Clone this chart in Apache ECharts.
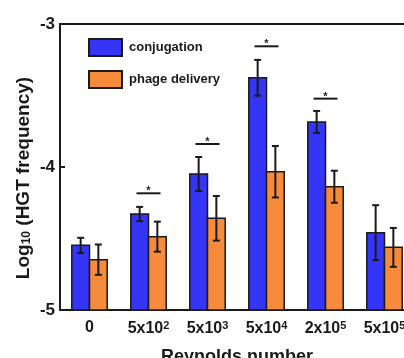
<!DOCTYPE html>
<html>
<head>
<meta charset="utf-8">
<script src="https://cdn.jsdelivr.net/npm/echarts@6/dist/echarts.min.js"></script>
<style>
  html, body { margin: 0; padding: 0; background: #fff; }
  #chart { width: 404px; height: 358px; }
</style>
</head>
<body>
<div id="chart"></div>
<script>
// Reynolds number categories (^n = superscript)
var categories = ['0', '5x10^2', '5x10^3', '5x10^4', '2x10^5', '5x10^5'];
var yTicks = [-5, -4, -3];

// log10 HGT frequency, mean and error
var conjugation = [-4.548, -4.329, -4.049, -3.376, -3.685, -4.459];
var conjugationErr = [0.053, 0.05, 0.119, 0.125, 0.077, 0.192];
var phageDelivery = [-4.648, -4.487, -4.359, -4.033, -4.138, -4.562];
var phageDeliveryErr = [0.106, 0.105, 0.156, 0.18, 0.112, 0.136];

// significance bars: category index and height
var sigIndex = [1, 2, 3, 4];
var sigLevel = [-4.184, -3.839, -3.156, -3.522];

var yMin = yTicks[0];
var yMax = yTicks[yTicks.length - 1];
var font = '"Liberation Sans", Arial, sans-serif';
var ink = '#1a1a1a';

// bar + error bar drawn in one custom item, side = -1 (left) or 1 (right)
function barRenderer(side) {
  return function (params, api) {
    var i = api.value(0);
    var v = api.value(1);
    var e = api.value(2);
    var top = api.coord([i, v]);
    var base = api.coord([i, yMin]);
    var band = api.size([1, 0])[0];
    var w = band * 0.3;
    var cx = top[0] + side * w / 2;
    var hi = api.coord([i, v + e])[1];
    var lo = api.coord([i, v - e])[1];
    var cap = 3.5;
    var lineStyle = { stroke: ink, lineWidth: 2 };
    return {
      type: 'group',
      children: [
        {
          type: 'rect',
          shape: { x: cx - w / 2, y: top[1], width: w, height: base[1] - top[1] },
          style: api.style()
        },
        { type: 'line', shape: { x1: cx, y1: hi, x2: cx, y2: lo }, style: lineStyle },
        { type: 'line', shape: { x1: cx - cap, y1: hi, x2: cx + cap, y2: hi }, style: lineStyle },
        { type: 'line', shape: { x1: cx - cap, y1: lo, x2: cx + cap, y2: lo }, style: lineStyle }
      ]
    };
  };
}

function sigRenderer(params, api) {
  var p = api.coord([api.value(0), api.value(1)]);
  var half = 12;
  return {
    type: 'group',
    children: [
      { type: 'line', shape: { x1: p[0] - half, y1: p[1], x2: p[0] + half, y2: p[1] },
        style: { stroke: ink, lineWidth: 2 } },
      { type: 'text', x: p[0], y: p[1] - 2,
        style: { text: '*', fill: ink, font: 'bold 11px ' + font, align: 'center', verticalAlign: 'middle' } }
    ]
  };
}

function withErr(values, errs) {
  return values.map(function (v, i) { return [i, v, errs[i]]; });
}

var chart = echarts.init(document.getElementById('chart'));
var option = {
  animation: false,
  backgroundColor: '#fff',
  grid: { left: 60, top: 24, right: -10, bottom: 48, containLabel: false, outerBoundsMode: 'none' },
  legend: {
    orient: 'vertical',
    left: 83,
    top: 33,
    itemWidth: 33,
    itemHeight: 17,
    itemGap: 13,
    icon: 'rect',
    data: ['conjugation', 'phage delivery'],
    textStyle: { fontFamily: font, fontWeight: 'bold', fontSize: 13, color: ink, padding: [0, 0, 0, 2] }
  },
  xAxis: [
    {
      type: 'category',
      data: categories,
      name: 'Reynolds number',
      nameLocation: 'middle',
      nameGap: 38,
      nameMoveOverlap: false,
      nameTextStyle: { fontFamily: font, fontWeight: 'bold', fontSize: 18, color: ink },
      axisLine: { lineStyle: { color: ink, width: 2 } },
      axisTick: { show: false },
      axisLabel: {
        interval: 0,
        hideOverlap: false,
        margin: 10,
        color: ink,
        fontFamily: font,
        fontWeight: 'bold',
        fontSize: 16,
        formatter: function (s) { return s.replace(/\^(\d+)/, '{sup|$1}'); },
        rich: { sup: { fontFamily: font, fontWeight: 'bold', fontSize: 11, color: ink, verticalAlign: 'top', padding: [0, 0, 6, 0] } }
      }
    },
    {
      type: 'category',
      position: 'top',
      data: categories,
      axisLine: { lineStyle: { color: ink, width: 2 } },
      axisTick: { show: false },
      axisLabel: { show: false }
    }
  ],
  yAxis: {
    type: 'value',
    min: yMin,
    max: yMax,
    interval: 1,
    name: 'Log{sub|10} (HGT frequency)',
    nameLocation: 'middle',
    nameGap: 27,
    nameMoveOverlap: false,
    nameTextStyle: {
      fontFamily: font, fontWeight: 'bold', fontSize: 19, color: ink,
      padding: [0, 22, 0, 0],
      rich: { sub: { fontFamily: font, fontWeight: 'bold', fontSize: 12, color: ink, verticalAlign: 'bottom', padding: [7, 0, 0, 0] } }
    },
    axisLine: { show: true, lineStyle: { color: ink, width: 2 } },
    axisTick: { show: true, inside: true, length: 5, lineStyle: { color: ink, width: 2 } },
    splitLine: { show: false },
    axisLabel: { margin: 5, color: ink, fontFamily: font, fontWeight: 'bold', fontSize: 17 }
  },
  series: [
    {
      name: 'conjugation',
      type: 'custom',
      renderItem: barRenderer(-1),
      itemStyle: { color: '#3535f7', borderColor: ink, borderWidth: 1.5 },
      encode: { x: 0, y: 1 },
      data: withErr(conjugation, conjugationErr)
    },
    {
      name: 'phage delivery',
      type: 'custom',
      renderItem: barRenderer(1),
      itemStyle: { color: '#f68b3c', borderColor: ink, borderWidth: 1.5 },
      encode: { x: 0, y: 1 },
      data: withErr(phageDelivery, phageDeliveryErr)
    },
    {
      name: 'significance',
      type: 'custom',
      renderItem: sigRenderer,
      encode: { x: 0, y: 1 },
      data: sigIndex.map(function (i, k) { return [i, sigLevel[k]]; })
    }
  ]
};
chart.setOption(option);
</script>
</body>
</html>
